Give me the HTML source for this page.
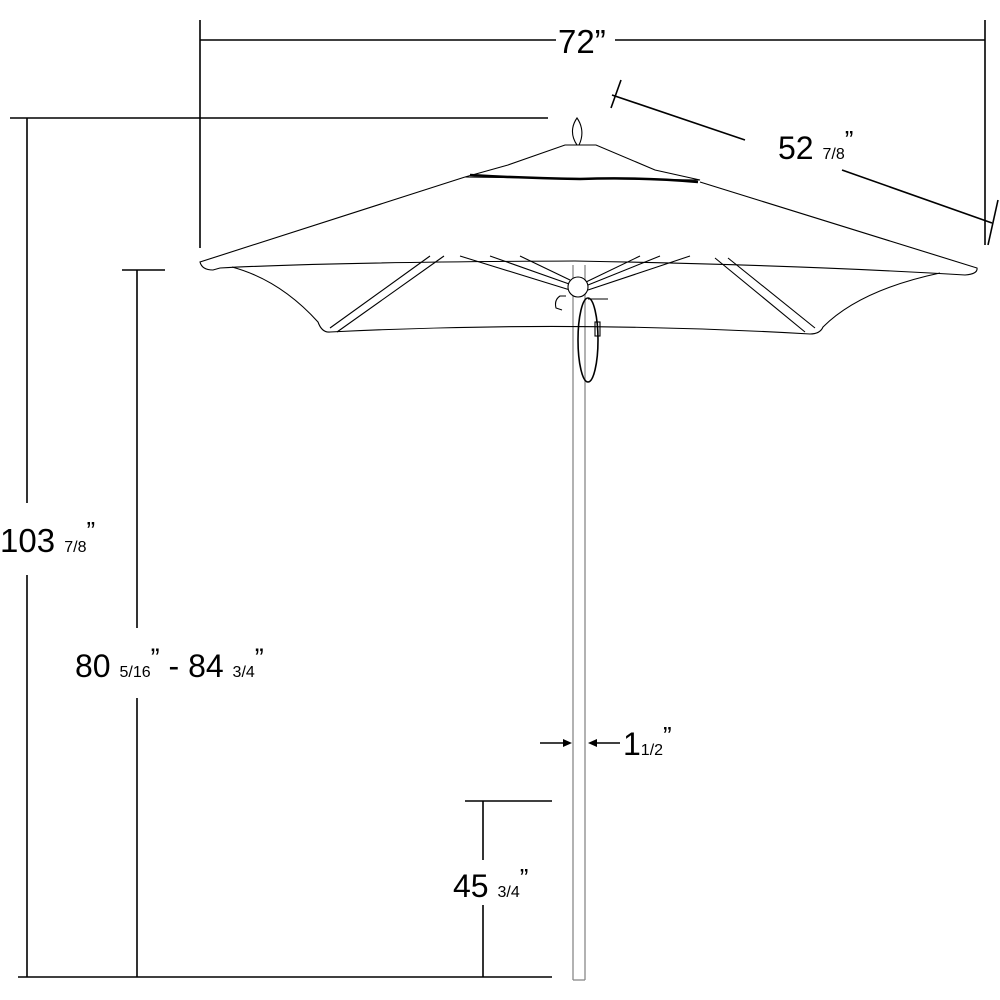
<!DOCTYPE html>
<html><head><style>html,body{margin:0;padding:0;background:#fff}svg{display:block}</style></head>
<body>
<svg width="1000" height="1000" viewBox="0 0 1000 1000" xmlns="http://www.w3.org/2000/svg" font-family="Liberation Sans, sans-serif">
<g stroke="#000" stroke-width="1.6" fill="none">
<line x1="200" y1="40" x2="556" y2="40"/><line x1="615" y1="40" x2="985" y2="40"/>
<line x1="200" y1="20" x2="200" y2="248"/><line x1="985" y1="20" x2="985" y2="245"/>
<line x1="612" y1="95" x2="745" y2="140"/><line x1="842" y1="170" x2="992" y2="223"/>
<line x1="621" y1="80" x2="611" y2="108"/><line x1="998" y1="200" x2="988" y2="245"/>
<line x1="10" y1="118" x2="548" y2="118"/>
<line x1="27" y1="118" x2="27" y2="503"/><line x1="27" y1="575" x2="27" y2="977"/>
<line x1="18" y1="977" x2="552" y2="977"/>
<line x1="122" y1="270" x2="165" y2="270"/>
<line x1="137" y1="270" x2="137" y2="628"/><line x1="137" y1="698" x2="137" y2="977"/>
<line x1="465" y1="801" x2="552" y2="801"/>
<line x1="483" y1="801" x2="483" y2="860"/><line x1="483" y1="905" x2="483" y2="977"/>
<line x1="540" y1="743" x2="566" y2="743"/><line x1="620" y1="743" x2="594" y2="743"/>
</g>
<polygon points="572,743 563,739 563,747" fill="#000"/>
<polygon points="588,743 597,739 597,747" fill="#000"/>
<g stroke="#888" stroke-width="1.3" fill="none">
<line x1="573" y1="265" x2="573" y2="980"/><line x1="585" y1="265" x2="585" y2="980"/>
<line x1="573" y1="980" x2="585" y2="980"/>
</g>
<g stroke="#000" stroke-width="1.1" fill="none">
<path d="M577,145 C570,135 572,125 577,118 C582,125 584,135 579,145"/>
<path d="M565,145 L596,145 L655,170 L700,180 L465,177 L508,165 Z"/>
<path d="M470,175 Q520,178 580,179 Q640,177 698,182" stroke-width="2.5"/>
<path d="M465,177 L200,262 Q202,270 213,270 L220,268 Q330,262 575,261 Q800,265 965,275 Q978,274 977,268 L700,182"/>
<path d="M232,267 Q280,280 318,322 Q322,333 330,332 Q570,320 810,334 Q820,334 823,327 Q860,290 940,273"/>
<line x1="330" y1="328" x2="430" y2="256"/><line x1="337" y1="332" x2="444" y2="256"/>
<line x1="805" y1="332" x2="715" y2="258"/><line x1="815" y1="328" x2="728" y2="258"/>
<line x1="460" y1="256" x2="570" y2="290"/><line x1="490" y1="256" x2="572" y2="285"/>
<line x1="520" y1="256" x2="570" y2="280"/><line x1="690" y1="256" x2="588" y2="290"/>
<line x1="660" y1="256" x2="588" y2="285"/><line x1="640" y1="256" x2="586" y2="282"/>
<circle cx="578" cy="287" r="10" fill="#fff"/>
<path d="M566,296 L560,296 Q554,300 556,308 L562,310"/>
<line x1="588" y1="299" x2="608" y2="299"/>
<ellipse cx="588" cy="340" rx="10" ry="42" stroke-width="1.6"/>
<rect x="595" y="322" width="5" height="14"/>
</g>
<g fill="#000">
<text x="558" y="53" font-size="33">72”</text>
<text x="778" y="159" font-size="32">52 <tspan font-size="16">7/8</tspan><tspan font-size="26" dy="-10">”</tspan></text>
<text x="0" y="552" font-size="33">103 <tspan font-size="16">7/8</tspan><tspan font-size="26" dy="-12">”</tspan></text>
<text x="75" y="677" font-size="32">80 <tspan font-size="16">5/16</tspan><tspan font-size="27" dy="-10">”</tspan><tspan dy="10"> - 84 </tspan><tspan font-size="16">3/4</tspan><tspan font-size="27" dy="-10">”</tspan></text>
<text x="623" y="755" font-size="32">1<tspan font-size="16">1/2</tspan><tspan font-size="26" dy="-10">”</tspan></text>
<text x="453" y="897" font-size="32">45 <tspan font-size="16">3/4</tspan><tspan font-size="26" dy="-10">”</tspan></text>
</g>
</svg>
</body></html>
